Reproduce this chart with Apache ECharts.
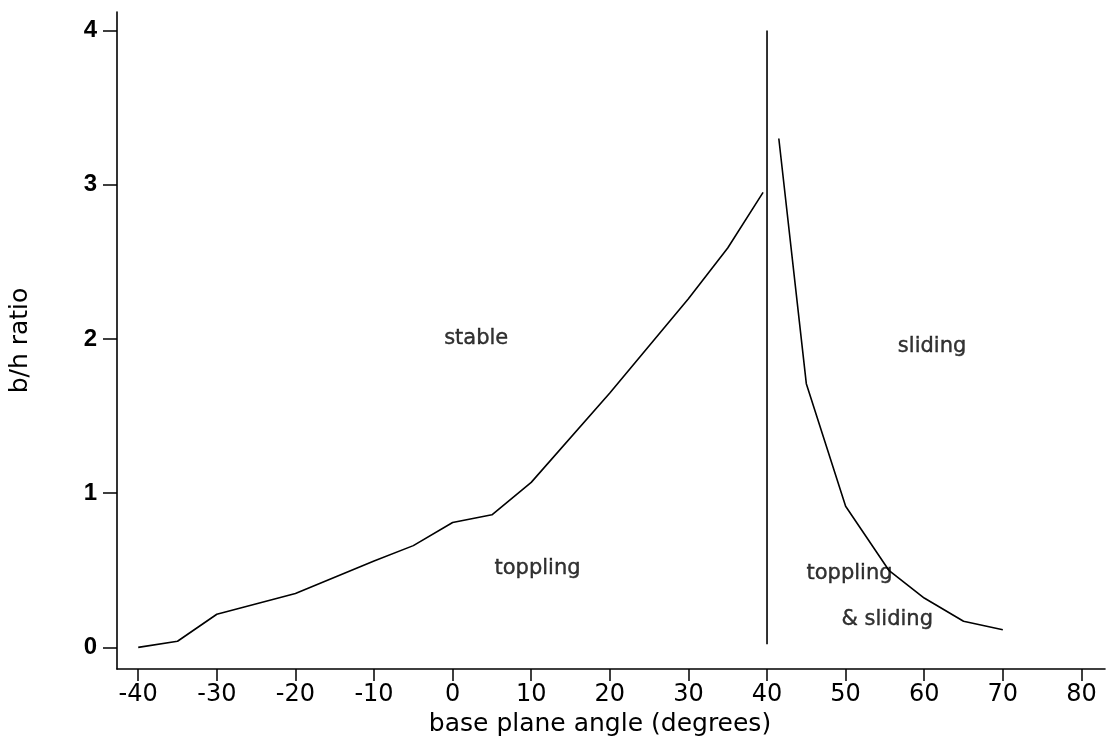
<!DOCTYPE html>
<html>
<head>
<meta charset="utf-8">
<script src="https://cdn.jsdelivr.net/npm/echarts@6/dist/echarts.min.js"></script>
<style>html,body{margin:0;padding:0;background:#fff}#c{width:1110px;height:743px}</style>
</head>
<body>
<div id="c"></div>
<script>
// toppling / stable boundary
const topplingX = [-40, -35, -30, -20, -10, -5, 0, 5, 10, 20, 30, 35, 39.5];
const topplingY = [0.0, 0.04, 0.215, 0.35, 0.56, 0.66, 0.81, 0.86, 1.07, 1.65, 2.26, 2.59, 2.95];
// vertical boundary at base plane angle = friction angle
const frictionX = [40, 40];
const frictionY = [0.02, 4.0];
// sliding boundary
const slidingX = [41.5, 45, 50, 55.5, 60, 65, 70];
const slidingY = [3.30, 1.71, 0.915, 0.50, 0.32, 0.17, 0.115];
// tick labels
const xTicks = [-40, -30, -20, -10, 0, 10, 20, 30, 40, 50, 60, 70, 80];
const yTicks = [0, 1, 2, 3, 4];
// region annotations
const regionNames = ['stable', 'toppling', 'sliding', 'toppling', '& sliding'];
const regionX = [3, 10.8, 61, 50.5, 55.3];
const regionY = [2.0, 0.51, 1.95, 0.48, 0.18];

const pairs = (xs, ys) => xs.map((x, i) => [x, ys[i]]);
const lineStyle = {color: '#000', width: 1.6};

const chart = echarts.init(document.getElementById('c'), null, {renderer: 'canvas'});
chart.setOption({
  backgroundColor: '#fff',
  animation: false,
  grid: {left: 116, right: 5, top: 12, bottom: 74, containLabel: false},
  xAxis: {
    type: 'value', min: -42.7, max: 83,
    name: 'base plane angle (degrees)', nameLocation: 'middle', nameGap: 36,
    nameTextStyle: {fontFamily: 'DejaVu Sans', fontSize: 25, color: '#000', padding: [0, 22, 0, 0]},
    axisLine: {show: true, onZero: false, lineStyle: {color: '#000', width: 1.6}},
    axisTick: {show: true, length: 12, customValues: xTicks, lineStyle: {color: '#000', width: 1.5}},
    axisLabel: {customValues: xTicks, fontFamily: 'DejaVu Sans', fontSize: 24, color: '#000', margin: 14},
    splitLine: {show: false}
  },
  yAxis: {
    type: 'value', min: -0.14, max: 4.12,
    name: 'b/h ratio', nameLocation: 'middle', nameGap: 84, nameRotate: 90,
    nameTextStyle: {fontFamily: 'DejaVu Sans', fontSize: 25, color: '#000'},
    axisLine: {show: true, onZero: false, lineStyle: {color: '#000', width: 1.6}},
    axisTick: {show: true, length: 14, customValues: yTicks, lineStyle: {color: '#000', width: 1.5}},
    axisLabel: {customValues: yTicks, fontFamily: 'Liberation Sans', fontWeight: 'bold', fontSize: 24, color: '#000', margin: 20},
    splitLine: {show: false}
  },
  series: [
    {type: 'line', data: pairs(topplingX, topplingY), showSymbol: false, symbol: 'none', lineStyle, silent: true},
    {type: 'line', data: pairs(frictionX, frictionY), showSymbol: false, symbol: 'none', lineStyle, silent: true},
    {type: 'line', data: pairs(slidingX, slidingY), showSymbol: false, symbol: 'none', lineStyle, silent: true},
    {
      type: 'scatter', symbolSize: 0, silent: true,
      data: regionNames.map((n, i) => ({name: n, value: [regionX[i], regionY[i]]})),
      label: {show: true, position: 'inside', formatter: p => p.name,
        fontFamily: 'DejaVu Sans', fontSize: 21, color: '#000',
        textBorderColor: '#000', textBorderWidth: 0.4}
    }
  ]
});
</script>
</body>
</html>
